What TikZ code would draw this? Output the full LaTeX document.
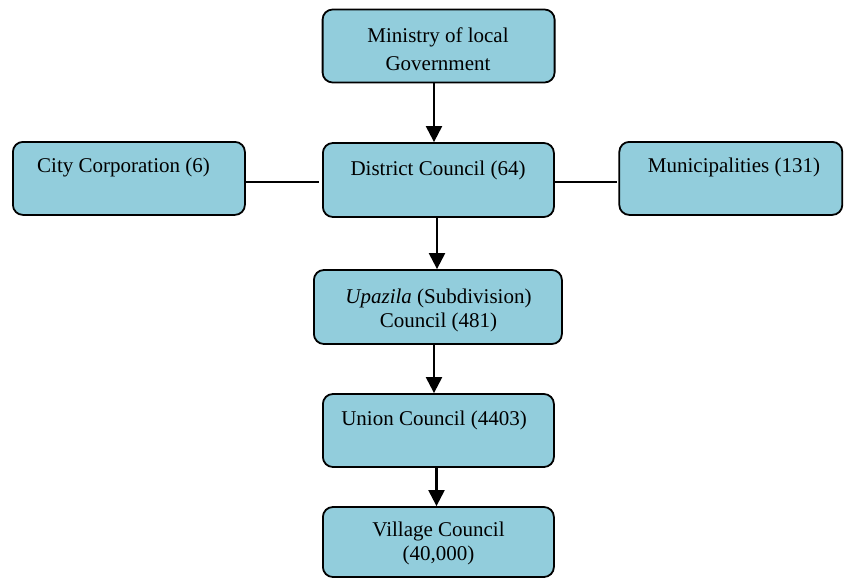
\documentclass[tikz,border=0pt]{standalone}
\usepackage{fontspec}
\setmainfont{Liberation Serif}
\usetikzlibrary{arrows.meta}
\definecolor{boxblue}{HTML}{92CDDC}
\begin{document}
\begin{tikzpicture}[x=1pt,y=-1pt,
  box/.style={draw=black,line width=1.8pt,rounded corners=10pt,fill=boxblue,rectangle,inner sep=0pt},
  txt/.style={font=\fontsize{21}{24}\selectfont,align=center,inner sep=0pt},
  arr/.style={line width=2.2pt,-{Triangle[length=16pt,width=16pt]}},
  link/.style={line width=1.6pt}]
\useasboundingbox (0,0) rectangle (844,578);
% boxes
\node[box,minimum width=232pt,minimum height=73pt] (min) at (438.6,46) {};
\node[box,minimum width=231pt,minimum height=74pt] (dis) at (438.4,180) {};
\node[box,minimum width=232pt,minimum height=73pt] (city) at (128.9,178.4) {};
\node[box,minimum width=223pt,minimum height=73pt] (mun) at (730.8,178.4) {};
\node[box,minimum width=248pt,minimum height=74pt] (upa) at (437.9,307) {};
\node[box,minimum width=231pt,minimum height=73pt] (uni) at (438.4,430.5) {};
\node[box,minimum width=231pt,minimum height=70pt] (vil) at (438.4,542) {};
% texts
\node[txt,font=\fontsize{21}{28}\selectfont] (tmin) at (438,49) {Ministry of local\\Government};
\node[txt] (tdis) at (438,170) {District Council (64)};
\node[txt] (tcity) at (123.5,167) {City Corporation (6)};
\node[txt] (tmun) at (734,167) {Municipalities (131)};
\node[txt] (tupa) at (438.5,310) {\textit{Upazila} (Subdivision)\\Council (481)};
\node[txt] (tuni) at (434,420) {Union Council (4403)};
\node[txt] (tvil) at (438.5,543.5) {Village Council\\(40,000)};
% connectors
\draw[arr] (min.south -| 434,0) -- (dis.north -| 434,0);
\draw[arr] (dis.south -| 437,0) -- (upa.north -| 437,0);
\draw[arr] (upa.south -| 434,0) -- (uni.north -| 434,0);
\draw[arr] (uni.south -| 436.5,0) -- (vil.north -| 436.5,0);
\coordinate (l1) at (319,182);
\coordinate (r1) at (617,182);
\draw[link] (city.east |- l1) -- (l1);
\draw[link] (dis.east |- r1) -- (r1);
\end{tikzpicture}
\end{document}
